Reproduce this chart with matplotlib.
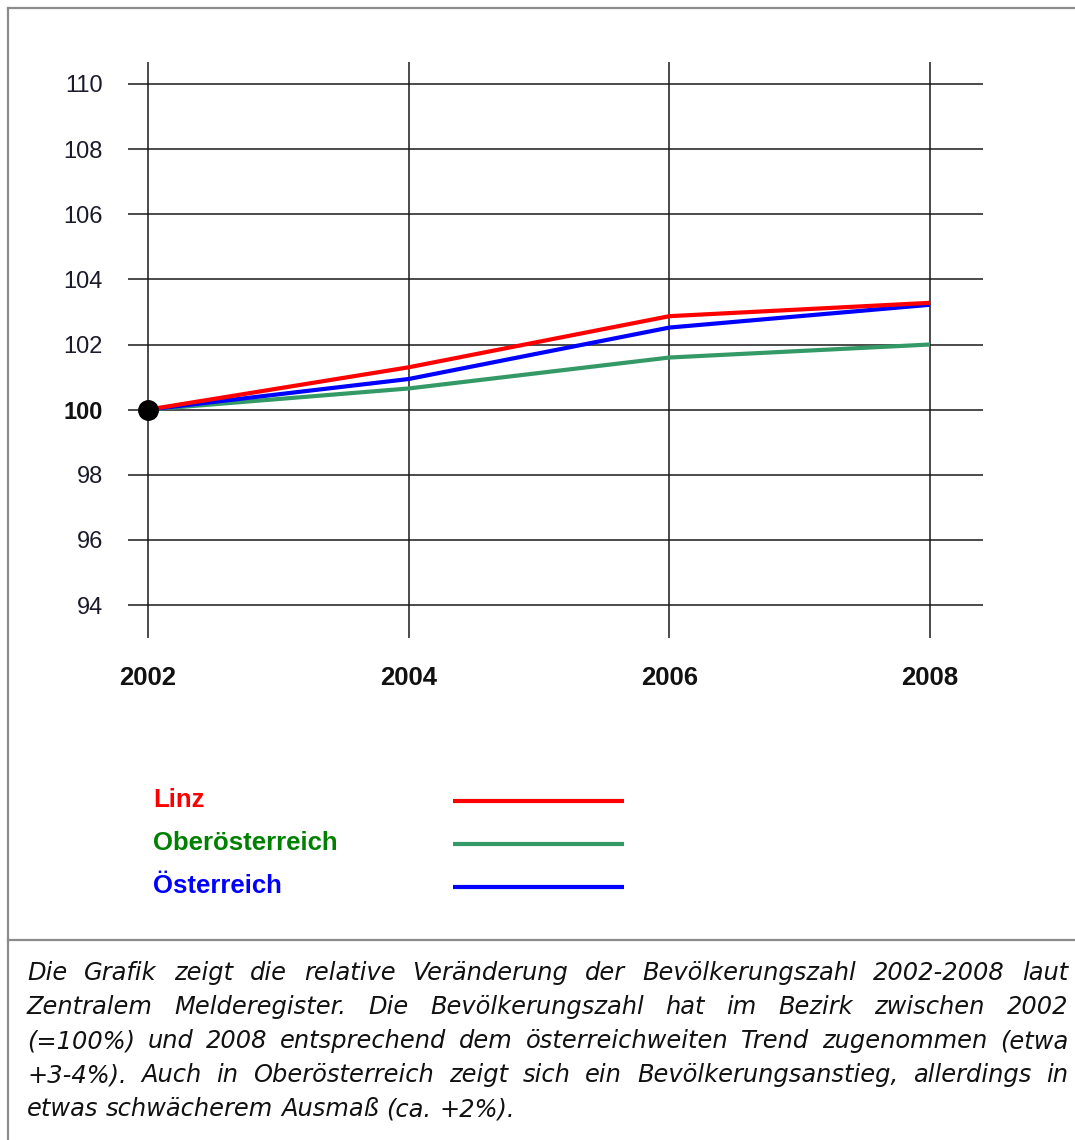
import matplotlib
matplotlib.use("Agg")
import matplotlib.pyplot as plt
from matplotlib.lines import Line2D

# ---- data ----
years = [2002, 2004, 2006, 2008]
linz = [100.0, 101.3, 102.87, 103.28]
oberoesterreich = [100.0, 100.65, 101.6, 102.0]
oesterreich = [100.0, 100.94, 102.52, 103.22]
y_ticks = [94, 96, 98, 100, 102, 104, 106, 108, 110]
x_ticks = [2002, 2004, 2006, 2008]
series_names = ["Linz", "Oberösterreich", "Österreich"]
caption_lines = [
    "Die Grafik zeigt die relative Veränderung der Bevölkerungszahl 2002-2008 laut",
    "Zentralem Melderegister. Die Bevölkerungszahl hat im Bezirk zwischen 2002",
    "(=100%) und 2008 entsprechend dem österreichweiten Trend zugenommen (etwa",
    "+3-4%). Auch in Oberösterreich zeigt sich ein Bevölkerungsanstieg, allerdings in",
    "etwas schwächerem Ausmaß (ca. +2%).",
]

W, H = 1075, 1140
fig = plt.figure(figsize=(W / 100, H / 100), dpi=100)
fig.patch.set_facecolor("white")

def fx(px):
    return px / W

def fy(py):
    return 1 - py / H

# axes placement in pixels
ax_l, ax_r, ax_t, ax_b = 128, 983, 62, 638
ax = fig.add_axes([fx(ax_l), fy(ax_b), (ax_r - ax_l) / W, (ax_b - ax_t) / H])

px_per_year = (930 - 148) / 6.0
px_per_unit = (605 - 84) / 16.0
ax.set_xlim(2002 - (148 - ax_l) / px_per_year, 2008 + (ax_r - 930) / px_per_year)
ax.set_ylim(94 - (ax_b - 605) / px_per_unit, 110 + (84 - ax_t) / px_per_unit)

for s in ax.spines.values():
    s.set_visible(False)

ax.set_xticks(x_ticks)
ax.set_yticks(y_ticks)
ax.grid(True, color="#1a1a1a", linewidth=1.1)
ax.set_axisbelow(True)
ax.tick_params(length=0)
ax.tick_params(axis="y", pad=18)
ax.tick_params(axis="x", pad=20)
ax.set_yticklabels([str(v) for v in y_ticks], fontfamily="Liberation Sans",
                   fontsize=17, color="#1a1a2a")
for lab, v in zip(ax.get_yticklabels(), y_ticks):
    if v == 100:
        lab.set_fontweight("bold")
        lab.set_color("#111111")
ax.set_xticklabels([str(v) for v in x_ticks], fontfamily="Liberation Sans",
                   fontsize=18.5, fontweight="bold", color="#111111")

line_colors = ["#FF0000", "#339966", "#0000FF"]
text_colors = ["#FF0000", "#008000", "#0000FF"]
lw = 3.0
ax.plot(years, oberoesterreich, color=line_colors[1], lw=lw, solid_capstyle="butt", zorder=3)
ax.plot(years, oesterreich, color=line_colors[2], lw=lw, solid_capstyle="butt", zorder=4)
ax.plot(years, linz, color=line_colors[0], lw=lw, solid_capstyle="butt", zorder=5)
ax.plot([years[0]], [linz[0]], "o", color="black", markersize=14, zorder=6, clip_on=False)

# ---- legend (manual) ----
leg_y = [800, 843, 886]
for name, tc, lc, py in zip(series_names, text_colors, line_colors, leg_y):
    fig.text(fx(153), fy(py), name, color=tc, fontfamily="Liberation Sans",
             fontsize=18.5, fontweight="bold", va="center", ha="left")
    fig.add_artist(Line2D([fx(453), fx(624)], [fy(py + 1), fy(py + 1)], color=lc,
                          lw=3.0, transform=fig.transFigure, solid_capstyle="butt"))

# ---- borders ----
border_col = "#8c8c8c"
fig.add_artist(Line2D([fx(8), fx(W + 5)], [fy(8), fy(8)], color=border_col, lw=1.6,
                      transform=fig.transFigure))
fig.add_artist(Line2D([fx(8), fx(8)], [fy(8), fy(H + 5)], color=border_col, lw=1.6,
                      transform=fig.transFigure))
fig.add_artist(Line2D([fx(8), fx(W + 5)], [fy(940), fy(940)], color=border_col, lw=1.6,
                      transform=fig.transFigure))

# ---- caption (justified) ----
renderer = fig.canvas.get_renderer()
left_px, right_px = 27, 1068
cap_y = [973, 1007, 1041, 1075, 1109]
cap_fs = 17.4
space_t = fig.text(0, 0, "a a", fontsize=cap_fs, fontfamily="DejaVu Sans", style="italic")
aa_t = fig.text(0, 0, "aa", fontsize=cap_fs, fontfamily="DejaVu Sans", style="italic")
space_w = space_t.get_window_extent(renderer).width - aa_t.get_window_extent(renderer).width
space_t.remove()
aa_t.remove()
for i, (line, py) in enumerate(zip(caption_lines, cap_y)):
    words = line.split()
    texts = [fig.text(0, fy(py), w, fontsize=cap_fs, fontfamily="DejaVu Sans",
                      style="italic", color="#111111", va="center", ha="left")
             for w in words]
    widths = [t.get_window_extent(renderer).width for t in texts]
    if i < len(caption_lines) - 1 and len(words) > 1:
        gap = (right_px - left_px - sum(widths)) / (len(words) - 1)
    else:
        gap = space_w
    x = left_px
    for t, w in zip(texts, widths):
        t.set_x(fx(x))
        x += w + gap

fig.savefig("out.png", dpi=100, facecolor="white")
